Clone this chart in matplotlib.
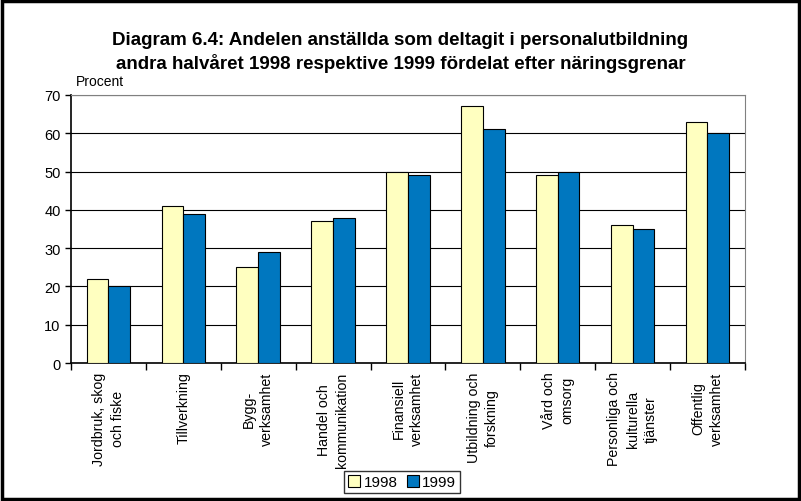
import numpy as np
import matplotlib.pyplot as plt
from matplotlib.patches import Rectangle

# Andel anställda i personalutbildning per näringsgren, procent
branscher = [
    "Jordbruk, skog\noch fiske",
    "Tillverkning",
    "Bygg-\nverksamhet",
    "Handel och\nkommunikation",
    "Finansiell\nverksamhet",
    "Utbildning och\nforskning",
    "Vård och\nomsorg",
    "Personliga och\nkulturella\ntjänster",
    "Offentlig\nverksamhet",
]
andel_1998 = [22, 41, 25, 37, 50, 67, 49, 36, 63]
andel_1999 = [20, 39, 29, 38, 49, 61, 50, 35, 60]
ar = ["1998", "1999"]

plt.rcParams["font.family"] = ["Liberation Sans", "DejaVu Sans"]

fig = plt.figure(figsize=(8.01, 5.02), dpi=100)
ax = fig.add_axes([0.0886, 0.2749, 0.8414, 0.5339])

x = np.arange(len(branscher))
w = 0.29
ax.bar(x - w / 2, andel_1998, w, color="#FFFFC0", edgecolor="black",
       linewidth=0.8, label=ar[0], zorder=3)
ax.bar(x + w / 2, andel_1999, w, color="#0077BF", edgecolor="black",
       linewidth=0.8, label=ar[1], zorder=3)

ax.set_xlim(-0.5, len(branscher) - 0.5)
ax.set_ylim(0, 70)
ax.set_yticks(np.arange(0, 71, 10))
ax.yaxis.grid(True, color="black", linewidth=0.8, zorder=0)
ax.tick_params(axis="y", labelsize=10.5, direction="out", length=4, width=1)

# kategorigränser som tickmarkeringar, etiketter i mitten
ax.set_xticks(np.arange(-0.5, len(branscher)), minor=False)
ax.set_xticklabels([])
ax.tick_params(axis="x", direction="out", length=5, width=1)
for i, lab in enumerate(branscher):
    ax.text(i, -2.2, lab, rotation=90, ha="center", va="top",
            multialignment="center", fontsize=10.2, linespacing=1.4)

for side in ["top", "right"]:
    ax.spines[side].set_color("#808080")
for side in ["left", "bottom"]:
    ax.spines[side].set_color("black")
    ax.spines[side].set_linewidth(1.2)

fig.text(0.0950, 0.822, "Procent", fontsize=10, ha="left", va="bottom")

fig.text(0.5, 0.920, "Diagram 6.4: Andelen anställda som deltagit i personalutbildning",
         ha="center", va="center", fontsize=13.5, fontweight="bold")
fig.text(0.5, 0.874, "andra halvåret 1998 respektive 1999 fördelat efter näringsgrenar",
         ha="center", va="center", fontsize=13.5, fontweight="bold")

leg = fig.legend(loc="center", bbox_to_anchor=(0.502, 0.0375), ncol=2,
                 frameon=True, fancybox=False, edgecolor="black",
                 fontsize=11, handlelength=0.8, handleheight=0.8,
                 handletextpad=0.2, columnspacing=0.6, borderpad=0.25,
                 borderaxespad=0)
leg.get_frame().set_linewidth(1.0)

# ram runt hela figuren
fig.patches.append(Rectangle((0.002, 0.003), 0.996, 0.994, transform=fig.transFigure,
                             fill=False, edgecolor="black", linewidth=2.5))

fig.savefig("out.png", dpi=100)
